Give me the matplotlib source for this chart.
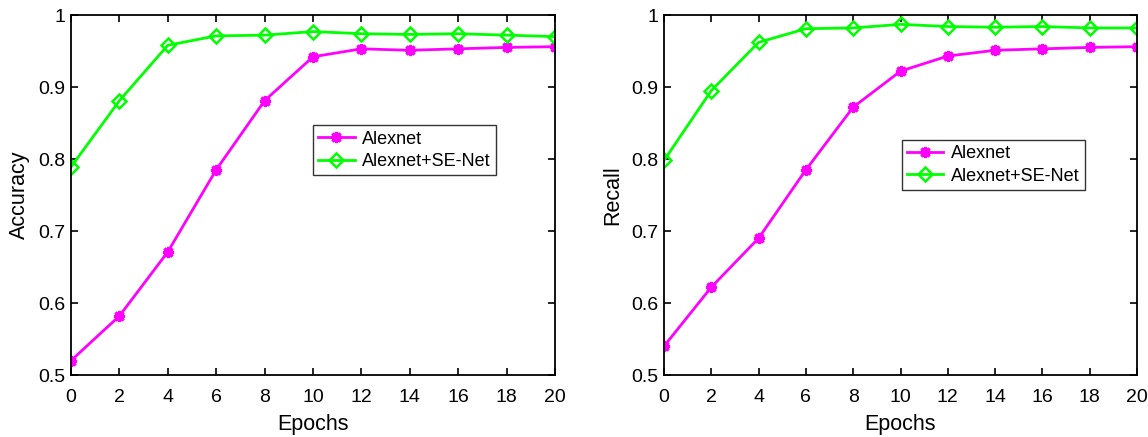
import matplotlib.pyplot as plt

plt.rcParams['font.family'] = ['Liberation Sans', 'DejaVu Sans']

epochs = [0, 2, 4, 6, 8, 10, 12, 14, 16, 18, 20]

acc_alexnet = [0.520, 0.582, 0.671, 0.785, 0.881, 0.942, 0.953, 0.951, 0.953, 0.955, 0.956]
acc_se = [0.789, 0.881, 0.958, 0.971, 0.972, 0.977, 0.974, 0.973, 0.974, 0.972, 0.970]

rec_alexnet = [0.540, 0.622, 0.690, 0.785, 0.872, 0.922, 0.943, 0.951, 0.953, 0.955, 0.956]
rec_se = [0.798, 0.895, 0.962, 0.981, 0.982, 0.987, 0.984, 0.983, 0.984, 0.982, 0.982]

labels = ['Alexnet', 'Alexnet+SE-Net']


def draw(ax, y1, y2, ylabel, legend_anchor):
    ax.plot(epochs, y1, color='#ff00ff', lw=2, marker=(8, 2, 0), ms=8, mew=2.2, label=labels[0])
    ax.plot(epochs, y2, color='#00ff00', lw=2, marker='D', ms=7, mfc='none', mew=1.8, label=labels[1])
    ax.set_xlim(0, 20)
    ax.set_ylim(0.5, 1)
    ax.set_xticks(epochs)
    ax.set_yticks([0.5, 0.6, 0.7, 0.8, 0.9, 1.0])
    ax.set_yticklabels(['0.5', '0.6', '0.7', '0.8', '0.9', '1'])
    ax.tick_params(direction='in', top=True, right=True, labelsize=14, length=5, width=1.2)
    ax.tick_params(axis='x', pad=10)
    ax.tick_params(axis='y', pad=4)
    for s in ax.spines.values():
        s.set_linewidth(1.3)
    ax.set_xlabel('Epochs', fontsize=15.5, labelpad=6)
    ax.set_ylabel(ylabel, fontsize=15.5, labelpad=6)
    leg = ax.legend(loc='upper left', bbox_to_anchor=legend_anchor, fontsize=13, fancybox=False,
                    edgecolor='#333333', framealpha=1, handlelength=2.0, borderpad=0.3,
                    labelspacing=0.3, handletextpad=0.4, borderaxespad=0)
    leg.get_frame().set_linewidth(1.0)


fig = plt.figure(figsize=(11.48, 4.37), dpi=100)
ax1 = fig.add_axes([71 / 1148, 62 / 437, 484 / 1148, 360 / 437])
ax2 = fig.add_axes([664 / 1148, 62 / 437, 473 / 1148, 360 / 437])

draw(ax1, acc_alexnet, acc_se, 'Accuracy', (0.5, 0.694))
draw(ax2, rec_alexnet, rec_se, 'Recall', (0.503, 0.653))

fig.savefig('out.png', dpi=100)
